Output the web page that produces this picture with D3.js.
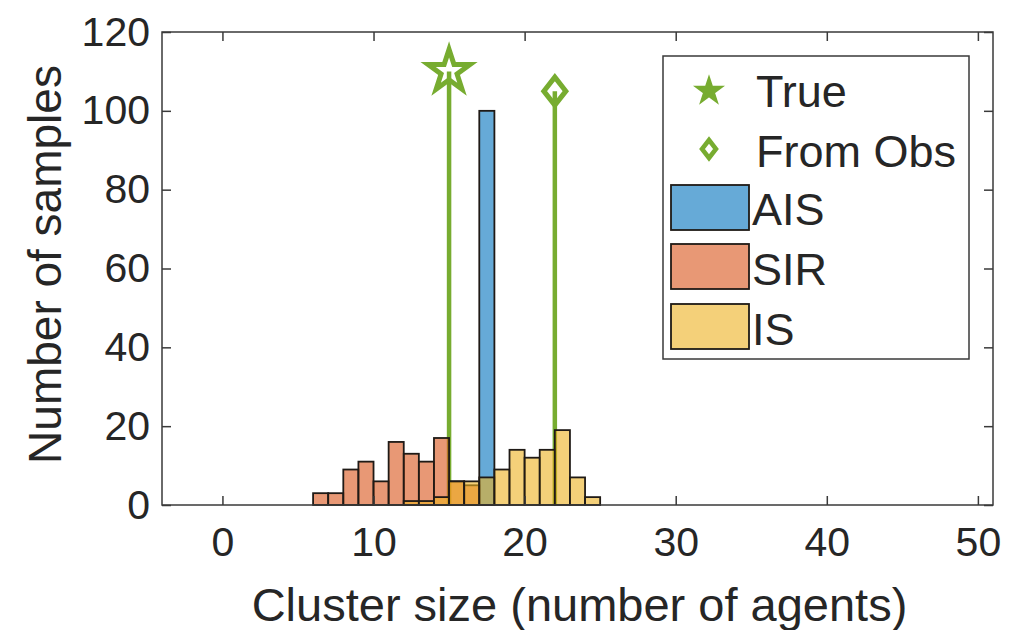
<!DOCTYPE html>
<html>
<head>
<meta charset="utf-8">
<script src="https://cdn.jsdelivr.net/npm/d3@7"></script>
<style>
  body { margin: 0; background: #fff; }
  text { font-family: "Liberation Sans", Arial, Helvetica, sans-serif; fill: #262626; }
</style>
</head>
<body>
<svg id="chart" width="1025" height="630"></svg>
<script>
// Histogram counts per unit-width bin (bin start value -> count)
const aisBins   = [17];
const aisCounts = [100];
const sirBins   = [6, 7, 8, 9, 10, 11, 12, 13, 14, 15, 16];
const sirCounts = [3, 3, 9, 11, 6, 16, 13, 11, 17, 6, 5];
const isBins    = [12, 13, 14, 15, 16, 17, 18, 19, 20, 21, 22, 23, 24];
const isCounts  = [1, 1, 2, 6, 6, 7, 9, 14, 12, 14, 19, 7, 2];
const binWidth  = 1;

// Reference cluster sizes drawn as stems
const trueSize  = [15];
const trueCount = [110];
const obsSize   = [22];
const obsCount  = [105];

const xTicks = [0, 10, 20, 30, 40, 50];
const yTicks = [0, 20, 40, 60, 80, 100, 120];

const seriesNames = ["AIS", "SIR", "IS"];
const seriesColors = ["#0072BD", "#D95319", "#EDB120"];
const stemColor = "#77AC30";

const svg = d3.select("#chart");
const plot = { left: 162, right: 993, top: 32, bottom: 505 };

const x = d3.scaleLinear().domain([-4, 51]).range([plot.left, plot.right]);
const y = d3.scaleLinear().domain([0, 120]).range([plot.bottom, plot.top]);

// five-pointed star path centred at origin
function starPath(R) {
  const r = R * 0.382;
  const pts = [];
  for (let i = 0; i < 10; i++) {
    const a = -Math.PI / 2 + i * Math.PI / 5;
    const rad = i % 2 === 0 ? R : r;
    pts.push([rad * Math.cos(a), rad * Math.sin(a)]);
  }
  return "M" + pts.map(p => p[0].toFixed(2) + "," + p[1].toFixed(2)).join("L") + "Z";
}
function diamondPath(w, h) {
  return `M0,${-h}L${w},0L0,${h}L${-w},0Z`;
}

// stems (drawn first, bars are laid over them)
const stems = svg.append("g");
function drawStem(xs, ys, marker) {
  xs.forEach((xv, i) => {
    stems.append("line")
      .attr("x1", x(xv)).attr("x2", x(xv))
      .attr("y1", y(0)).attr("y2", y(ys[i]))
      .attr("stroke", stemColor).attr("stroke-width", 4.5);
    stems.append("path")
      .attr("d", marker)
      .attr("transform", `translate(${x(xv)},${y(ys[i])})`)
      .attr("fill", "none").attr("stroke", stemColor)
      .attr("stroke-width", 5).attr("stroke-linejoin", "miter");
  });
}
drawStem(trueSize, trueCount, starPath(22));
drawStem(obsSize, obsCount, diamondPath(11, 14));

// histogram bars
const bars = svg.append("g");
function drawHist(bins, counts, color) {
  bars.append("g").selectAll("rect")
    .data(bins.map((b, i) => ({ b, c: counts[i] })))
    .join("rect")
    .attr("x", d => x(d.b))
    .attr("width", d => x(d.b + binWidth) - x(d.b))
    .attr("y", d => y(d.c))
    .attr("height", d => y(0) - y(d.c))
    .attr("fill", color).attr("fill-opacity", 0.6)
    .attr("stroke", "#1f1a16").attr("stroke-width", 1.8);
}
drawHist(aisBins, aisCounts, seriesColors[0]);
drawHist(sirBins, sirCounts, seriesColors[1]);
drawHist(isBins, isCounts, seriesColors[2]);

// axes box with inward ticks on all sides
const axisColor = "#3a3a3a";
const ax = svg.append("g");
ax.append("rect")
  .attr("x", plot.left).attr("y", plot.top)
  .attr("width", plot.right - plot.left).attr("height", plot.bottom - plot.top)
  .attr("fill", "none").attr("stroke", axisColor).attr("stroke-width", 1.5);

const tickLen = 9;
const xb = ax.append("g").attr("transform", `translate(0,${plot.bottom})`)
  .call(d3.axisBottom(x).tickValues(xTicks).tickSize(-tickLen).tickPadding(22));
const xt = ax.append("g").attr("transform", `translate(0,${plot.top})`)
  .call(d3.axisTop(x).tickValues(xTicks).tickSize(-tickLen).tickFormat(""));
const yl = ax.append("g").attr("transform", `translate(${plot.left},0)`)
  .call(d3.axisLeft(y).tickValues(yTicks).tickSize(-tickLen).tickPadding(12));
const yr = ax.append("g").attr("transform", `translate(${plot.right},0)`)
  .call(d3.axisRight(y).tickValues(yTicks).tickSize(-tickLen).tickFormat(""));

[xb, xt, yl, yr].forEach(g => {
  g.select(".domain").remove();
  g.selectAll(".tick line").attr("stroke", axisColor).attr("stroke-width", 1.5);
  g.selectAll(".tick text").attr("font-size", 41).attr("fill", "#262626")
    .style("font-family", '"Liberation Sans", Arial, sans-serif');
});

// axis titles
svg.append("text")
  .attr("x", (plot.left + plot.right) / 2 + 2).attr("y", 621)
  .attr("text-anchor", "middle").attr("font-size", 47)
  .text("Cluster size (number of agents)");
svg.append("text")
  .attr("transform", `translate(61,${(plot.top + plot.bottom) / 2 - 4}) rotate(-90)`)
  .attr("text-anchor", "middle").attr("font-size", 46)
  .text("Number of samples");

// legend
const lg = svg.append("g");
lg.append("rect")
  .attr("x", 663).attr("y", 56).attr("width", 306).attr("height", 303)
  .attr("fill", "#fff").attr("stroke", axisColor).attr("stroke-width", 1.5);

const lgText = 756;
lg.append("path").attr("d", starPath(12)).attr("transform", "translate(709,91)")
  .attr("fill", stemColor).attr("stroke", stemColor).attr("stroke-width", 3)
  .attr("stroke-linejoin", "miter");
lg.append("text").attr("x", lgText).attr("y", 107).attr("font-size", 45).text("True");

lg.append("path").attr("d", diamondPath(7, 9)).attr("transform", "translate(709,149)")
  .attr("fill", "none").attr("stroke", stemColor).attr("stroke-width", 4.5);
lg.append("text").attr("x", lgText).attr("y", 167).attr("font-size", 45).text("From Obs");

const patchTops = [185, 244, 304];
const patchBase = [225, 285, 345];
seriesNames.forEach((name, i) => {
  lg.append("rect")
    .attr("x", 671).attr("y", patchTops[i]).attr("width", 78).attr("height", 45)
    .attr("fill", seriesColors[i]).attr("fill-opacity", 0.6)
    .attr("stroke", "#1f1a16").attr("stroke-width", 1.8);
  lg.append("text").attr("x", 752).attr("y", patchBase[i]).attr("font-size", 45).text(name);
});
</script>
</body>
</html>
